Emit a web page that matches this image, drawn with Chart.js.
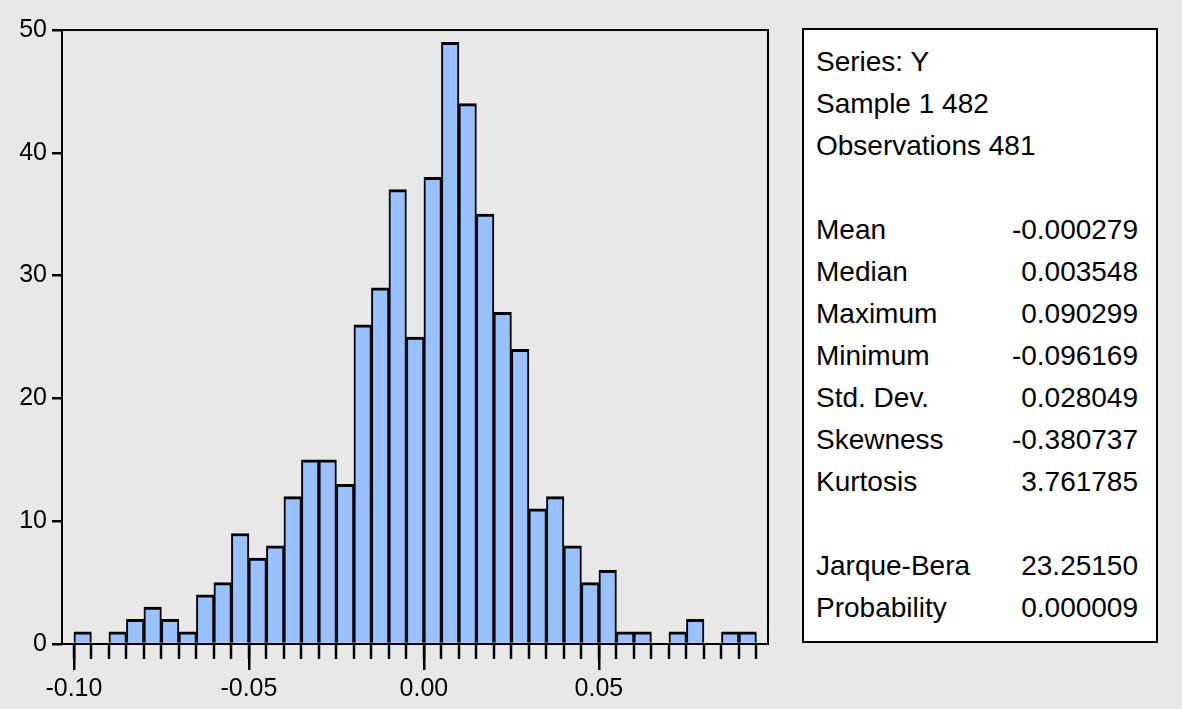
<!DOCTYPE html>
<html>
<head>
<meta charset="utf-8">
<script src="https://cdn.jsdelivr.net/npm/chart.js@4/dist/chart.umd.min.js"></script>
<style>
  body { margin: 0; background: #e8e8e8; }
  #wrap { position: relative; width: 1182px; height: 709px; background: #e8e8e8; }
  #stats {
    position: absolute; left: 802px; top: 28px; width: 356px; height: 615px;
    border: 2px solid #000; background: #fff;
    font-family: 'Liberation Sans', Arial, sans-serif; font-size: 28px; color: #000;
    padding: 11px 0 0 0; box-sizing: border-box;
  }
  .row { height: 42px; line-height: 42px; padding-left: 12px; padding-right: 18px; display: flex; justify-content: space-between; white-space: nowrap; }
</style>
</head>
<body>
<div id="wrap">
  <canvas id="histChart" width="1182" height="709"></canvas>
  <div id="stats"></div>
</div>
<script>
// histogram: bins of 0.005 starting at -0.10
const binStart = -0.10;
const binWidth = 0.005;
const counts = [1, 0, 1, 2, 3, 2, 1, 4, 5, 9,
                7, 8, 12, 15, 15, 13, 26, 29, 37, 25,
                38, 49, 44, 35, 27, 24, 11, 12, 8, 5,
                6, 1, 1, 0, 1, 2, 0, 1, 1];
const xTicks = [-0.10, -0.05, 0.00, 0.05];
const yTicks = [0, 10, 20, 30, 40, 50];

const headerLines = ['Series: Y', 'Sample 1 482', 'Observations 481'];
const statNames = ['Mean', 'Median', 'Maximum', 'Minimum', 'Std. Dev.', 'Skewness', 'Kurtosis'];
const statValues = ['-0.000279', '0.003548', '0.090299', '-0.096169', '0.028049', '-0.380737', '3.761785'];
const testNames = ['Jarque-Bera', 'Probability'];
const testValues = ['23.25150', '0.000009'];

// stats panel
const stats = document.getElementById('stats');
function addRow(left, right) {
    const row = document.createElement('div');
    row.className = 'row';
    const a = document.createElement('span');
    a.textContent = left;
    const b = document.createElement('span');
    b.textContent = right || '';
    row.appendChild(a);
    row.appendChild(b);
    stats.appendChild(row);
}
headerLines.forEach(t => addRow(t));
addRow('');
statNames.forEach((n, i) => addRow(n, statValues[i]));
addRow('');
testNames.forEach((n, i) => addRow(n, testValues[i]));

const FONT = "'Liberation Sans', Arial, sans-serif";

// box around plot area + small ticks at every bin edge
const frame = {
    id: 'frame',
    afterDatasetsDraw(chart) {
        const { ctx, chartArea: a, scales: { x } } = chart;
        ctx.save();
        ctx.strokeStyle = '#000';
        ctx.lineWidth = 2;
        ctx.strokeRect(a.left, a.top, a.right - a.left, a.bottom - a.top);
        ctx.lineWidth = 2.5;
        ctx.beginPath();
        for (let i = 0; i <= counts.length; i++) {
            const px = Math.round(x.getPixelForValue(binStart + i * binWidth));
            ctx.moveTo(px, a.bottom);
            ctx.lineTo(px, a.bottom + 15);
        }
        ctx.stroke();
        ctx.restore();
    }
};

const ctx = document.getElementById('histChart').getContext('2d');
const chart = new Chart(ctx, {
    type: 'bar',
    data: {
        datasets: [{
            data: counts.map((c, i) => ({ x: binStart + (i + 0.5) * binWidth, y: c })),
            backgroundColor: '#99c0ff',
            borderColor: '#000',
            borderWidth: { top: 3, left: 2, right: 2, bottom: 0 },
            borderSkipped: false,
            barPercentage: 1,
            categoryPercentage: 1
        }]
    },
    options: {
        responsive: false,
        animation: false,
        layout: { padding: { top: 30, right: 414, left: 0, bottom: 0 } },
        plugins: { legend: { display: false }, tooltip: { enabled: false } },
        scales: {
            x: {
                type: 'linear',
                offset: false,
                min: -0.1034,
                max: 0.0983,
                afterBuildTicks: axis => { axis.ticks = xTicks.map(v => ({ value: v })); },
                afterFit: axis => { axis.height = 65; },
                grid: { offset: false, drawOnChartArea: false, tickLength: 26, color: '#000', lineWidth: 2.5 },
                border: { display: false },
                ticks: {
                    autoSkip: false, maxRotation: 0, padding: 4,
                    color: '#000', font: { family: FONT, size: 25 },
                    callback: v => v.toFixed(2)
                }
            },
            y: {
                min: 0,
                max: 50,
                afterBuildTicks: axis => { axis.ticks = yTicks.map(v => ({ value: v })); },
                afterFit: axis => { axis.width = 62; },
                grid: { drawOnChartArea: false, tickLength: 10, color: '#000', lineWidth: 2.5 },
                border: { display: false },
                ticks: { padding: 5, color: '#000', font: { family: FONT, size: 25 } }
            }
        }
    },
    plugins: [frame]
});
</script>
</body>
</html>
